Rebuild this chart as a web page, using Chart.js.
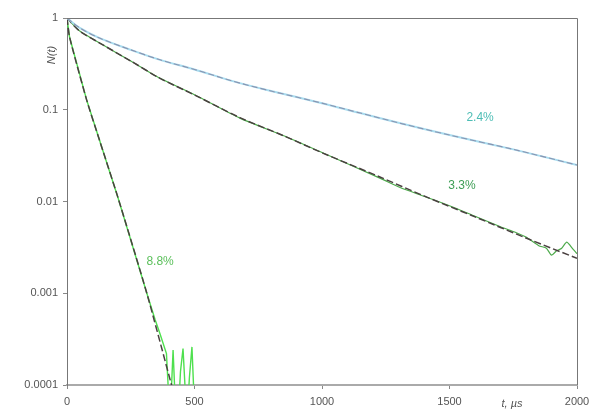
<!DOCTYPE html>
<html><head><meta charset="utf-8">
<script src="https://cdn.jsdelivr.net/npm/chart.js@4/dist/chart.umd.min.js"></script>
<style>html,body{margin:0;padding:0;background:#fff}#wrap{width:591px;height:411px}</style>
</head><body><div id="wrap"><canvas id="c" width="591" height="411"></canvas></div>
<script>
// ---- data ----
const yTickValues = [0.0001, 0.001, 0.01, 0.1, 1];
const xTickValues = [0, 500, 1000, 1500, 2000];

const t24 = [0, 50, 130, 250, 365, 500, 650, 800, 1000, 1150, 1300, 1500, 1750, 2000];
const n24 = [1, 0.78, 0.60, 0.45, 0.35, 0.275, 0.205, 0.16, 0.118, 0.092, 0.072, 0.053, 0.037, 0.025];

const t33fit = [0, 50, 130, 250, 365, 500, 678, 850, 1000, 1227, 1400, 1600, 1800, 2000];
const n33fit = [1, 0.72, 0.53, 0.34, 0.22, 0.145, 0.082, 0.052, 0.034, 0.0185, 0.0115, 0.0068, 0.0040, 0.0024];
const t33data = [0, 50, 130, 250, 365, 500, 678, 850, 1000, 1227, 1306, 1400, 1500, 1600, 1700, 1760, 1800, 1850, 1880, 1900, 1920, 1940, 1960, 1985, 2000];
const n33data = [1, 0.72, 0.53, 0.34, 0.22, 0.146, 0.081, 0.052, 0.0342, 0.0180, 0.0142, 0.0114, 0.0090, 0.0069, 0.0053, 0.0046, 0.0041, 0.0033, 0.0031, 0.0026, 0.0029, 0.0031, 0.0036, 0.0030, 0.0027];

const t88fit = [0, 10, 77, 127, 200, 313, 410, 440];
const n88fit = [1, 0.62, 0.128, 0.047, 0.011, 0.001, 0.0001, 0.00005];
const t88data = [0, 10, 77, 127, 200, 313, 345, 365, 390, 404, 416, 425, 435, 445, 455, 470, 480, 490, 502];
const n88data = [1, 0.62, 0.128, 0.047, 0.011, 0.001, 0.00052, 0.00036, 0.00022, 0.00004, 0.00024, 0.00006, 0.00004, 0.00014, 0.00025, 0.00004, 0.00012, 0.00026, 0.00004];

const seriesLabels = ['2.4%', '3.3%', '8.8%'];

function pts(ts, ns) { return ts.map((t, i) => ({x: t, y: ns[i]})); }

const annotations = [
  {text: seriesLabels[0], x: 1620, y: 0.081, color: '#4dbdb5'},
  {text: seriesLabels[1], x: 1549, y: 0.0147, color: '#3d9e55'},
  {text: seriesLabels[2], x: 365, y: 0.0022, color: '#5cc05c'}
];

const extras = {
  id: 'extras',
  afterDatasetsDraw(chart) {
    const {ctx, chartArea: a, scales: {x, y}} = chart;
    ctx.save();
    ctx.strokeStyle = '#777';
    ctx.lineWidth = 1;
    ctx.beginPath();
    ctx.moveTo(a.left, a.top + 0.5); ctx.lineTo(a.right + 0.5, a.top + 0.5); ctx.lineTo(a.right + 0.5, a.bottom);
    ctx.stroke();
    ctx.font = '12px "Liberation Sans", Arial, sans-serif';
    ctx.textAlign = 'center'; ctx.textBaseline = 'middle';
    annotations.forEach(an => {
      ctx.fillStyle = an.color;
      ctx.fillText(an.text, x.getPixelForValue(an.x), y.getPixelForValue(an.y));
    });
    ctx.fillStyle = '#555';
    ctx.font = 'italic 11px "Liberation Sans", Arial, sans-serif';
    ctx.fillText('t, µs', 512, 404);
    ctx.translate(52, 55);
    ctx.rotate(-Math.PI / 2);
    ctx.fillText('N(t)', 0, 0);
    ctx.restore();
  }
};

new Chart(document.getElementById('c'), {
  type: 'line',
  data: {
    datasets: [
      {data: pts(t24, n24), borderColor: '#8a94b0', borderWidth: 1.1, borderDash: [6, 3], pointRadius: 0, tension: 0.3},
      {data: pts(t24, n24), borderColor: '#a9dcef', borderWidth: 2, pointRadius: 0, tension: 0.3},
      {data: pts(t33fit, n33fit), borderColor: '#4a4040', borderWidth: 1.5, borderDash: [7, 3], pointRadius: 0, tension: 0.3},
      {data: pts(t33data, n33data), borderColor: '#4caa4a', borderWidth: 1.2, pointRadius: 0, tension: 0.2},
      {data: pts(t88fit, n88fit), borderColor: '#4a4040', borderWidth: 1.5, borderDash: [7, 3], pointRadius: 0, tension: 0.2},
      {data: pts(t88data, n88data), borderColor: '#4ee04e', borderWidth: 1.4, pointRadius: 0, tension: 0}
    ]
  },
  options: {
    responsive: false,
    animation: false,
    layout: {padding: {top: 18, right: 14, left: 0, bottom: 0}},
    plugins: {legend: {display: false}, tooltip: {enabled: false}},
    scales: {
      x: {
        type: 'linear', min: 0, max: 2000,
        afterBuildTicks: s => { s.ticks = xTickValues.map(v => ({value: v})); },
        afterFit: s => { s.height = 26; s.paddingRight = 0; s.paddingLeft = 0; },
        ticks: {color: '#555', font: {size: 11, family: '"Liberation Sans", Arial, sans-serif'}, padding: 6, maxRotation: 0,
          callback: v => String(v)},
        grid: {drawOnChartArea: false, tickLength: 4, color: '#888'},
        border: {color: '#aaa', width: 2}
      },
      y: {
        type: 'logarithmic', min: 0.0001, max: 1,
        afterBuildTicks: s => { s.ticks = yTickValues.map(v => ({value: v})); },
        afterFit: s => { s.width = 67; s.paddingTop = 0; s.paddingBottom = 0; },
        ticks: {color: '#555', font: {size: 11, family: '"Liberation Sans", Arial, sans-serif'}, padding: 5,
          callback: v => String(v)},
        grid: {drawOnChartArea: false, tickLength: 4, color: '#888'},
        border: {color: '#777', width: 1}
      }
    }
  },
  plugins: [extras]
});
</script>
</body></html>
